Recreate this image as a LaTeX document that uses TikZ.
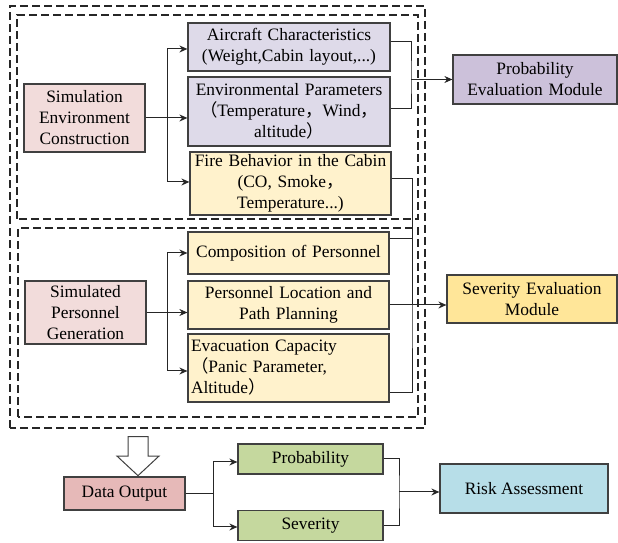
\documentclass[tikz,border=0pt]{standalone}
\usepackage{fontspec}
\setmainfont{Liberation Serif}
\newfontfamily\cjk{Noto Sans CJK SC}
\usetikzlibrary{shapes.arrows, arrows.meta}
\newcommand{\cnlp}{{\cjk （}}
\newcommand{\cnrp}{{\cjk ）}}
\newcommand{\cncomma}{{\cjk ，}}
\definecolor{pinksoft}{HTML}{F2DCDB}
\definecolor{pinkdeep}{HTML}{E6B9B8}
\definecolor{lilac}{HTML}{DEDAE9}
\definecolor{lilacdeep}{HTML}{CCC1DA}
\definecolor{cream}{HTML}{FFF2CC}
\definecolor{gold}{HTML}{FFE699}
\definecolor{leaf}{HTML}{C5D89E}
\definecolor{sky}{HTML}{B7DEE8}
\tikzstyle{box} = [rectangle, draw=black!75, line width=1.2pt, inner sep=2pt, align=center]
\tikzstyle{source} = [box, fill=pinksoft, minimum width=121pt, text width=115pt]
\tikzstyle{factor} = [box, fill=lilac, minimum width=202pt, text width=196pt]
\tikzstyle{hazard} = [box, fill=cream, minimum width=201pt, text width=195pt]
\tikzstyle{module} = [box, text width=160pt]
\tikzstyle{result} = [box, fill=leaf, minimum width=145pt, minimum height=30pt]
\tikzstyle{group} = [draw=black!85, line width=1.2pt, dash pattern=on 8pt off 4pt]
\tikzstyle{hollow} = [single arrow, draw=black!75, line width=1pt, fill=white, shape border rotate=270, minimum height=39pt, inner xsep=9.5pt, inner ysep=0pt, single arrow head extend=11pt, single arrow tip angle=94]
\tikzstyle{wire} = [draw=black!85, line width=1pt]
\tikzstyle{arrow} = [wire, -{Stealth[length=8pt,width=7pt]}]

\begin{document}
\begin{tikzpicture}[x=1pt, y=1pt, font=\fontsize{17.4}{21}\selectfont]
\useasboundingbox (0,0) rectangle (618,543);
% dashed frames
\draw [group] (10,115) rectangle (425,537);
\draw [group] (17,324) rectangle (418,528);
\draw [group] (18,126) rectangle (418,315);
% environment part
\node (simenv) [source, minimum height=68pt] at (84.5,425) {Simulation\\Environment\\Construction};
\node (aircraft) [factor, minimum height=48pt] at (289,496) {Aircraft Characteristics\\(Weight,Cabin layout,...)};
\node (envparam) [factor, minimum height=69pt] at (289,431.5) {Environmental Parameters\\\cnlp Temperature\cncomma Wind\cncomma\\altitude\cnrp};
\node (fire) [hazard, minimum height=63pt] at (290.5,359.5) {Fire Behavior in the Cabin\\(CO, Smoke\cncomma\\Temperature...)};
\node (probeval) [module, fill=lilacdeep, minimum width=164pt, minimum height=49pt] at (535,463.5) {Probability\\Evaluation Module};
% personnel part
\node (simpers) [source, minimum height=63pt] at (85.5,230.5) {Simulated\\Personnel\\Generation};
\node (compos) [hazard, minimum height=42pt] at (288.5,290) {Composition of Personnel};
\node (location) [hazard, minimum height=48pt] at (288.5,238) {Personnel Location and\\Path Planning};
\node (evac) [hazard, minimum height=68pt, align=left] at (288.5,175) {Evacuation Capacity\\\cnlp Panic Parameter,\\Altitude\cnrp};
\node (seveval) [module, fill=gold, minimum width=170pt, minimum height=48pt] at (532,244) {Severity Evaluation\\Module};
% output part
\node (outarrow) [hollow] at (138,91.5) {};
\node (dataout) [box, fill=pinkdeep, minimum width=121pt, minimum height=33pt] at (124.5,49.5) {Data Output};
\node (prob) [result] at (310.5,84) {Probability};
\node (sev) [result] at (310.5,17.5) {Severity};
\node (risk) [box, fill=sky, minimum width=168pt, minimum height=49pt] at (524,54.5) {Risk Assessment};

\coordinate (envsplit) at (167,425);
\coordinate (perssplit) at (167,230.5);
\coordinate (probjoin) at (411,463.5);
\coordinate (sevjoin) at (412,238);
\coordinate (datasplit) at (213,49.5);
\coordinate (riskjoin) at (399,51);

\draw [wire] (simenv.east) -- (envsplit);
\draw [arrow] (envsplit) |- ([yshift=-2pt]aircraft.west);
\draw [arrow] (envsplit) -- (envsplit -| envparam.west);
\draw [arrow] (envsplit) |- ([yshift=1.5pt]fire.west);
\draw [wire] ([yshift=5pt]aircraft.east) -| (probjoin) |- ([yshift=2.5pt]envparam.east);
\draw [arrow] (probjoin) -- (probjoin -| probeval.west);

\draw [wire] (simpers.east) -- (perssplit);
\draw [arrow] (perssplit) |- (compos.west);
\draw [arrow] (perssplit) -- (perssplit -| location.west);
\draw [arrow] (perssplit) |- ([yshift=-3pt]evac.west);
\draw [wire] ([yshift=4.5pt]fire.east) -| (sevjoin) |- ([yshift=-25pt]evac.east);
\draw [wire] ([yshift=14pt]compos.east) -| (sevjoin);
\draw [arrow] (location.east) -- (location.east -| seveval.west);

\draw [wire] (dataout.east) -- (datasplit);
\draw [arrow] (datasplit) |- ([yshift=-3pt]prob.west);
\draw [arrow] (datasplit) |- ([yshift=-1.5pt]sev.west);
\draw [wire] (prob.east) -| (riskjoin) |- (sev.east);
\draw [arrow] (riskjoin) -- (riskjoin -| risk.west);
\end{tikzpicture}
\end{document}
